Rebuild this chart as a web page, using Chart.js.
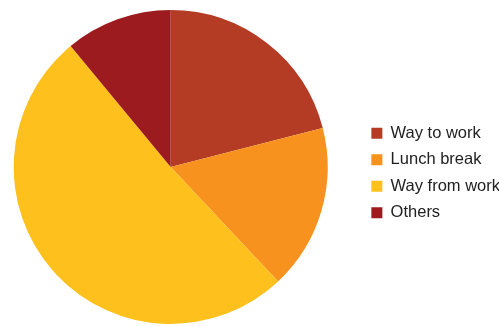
<!DOCTYPE html>
<html>
<head>
<meta charset="utf-8">
<script src="https://cdn.jsdelivr.net/npm/chart.js@4/dist/chart.umd.min.js"></script>
<style>
  html, body { margin: 0; padding: 0; background: #ffffff; }
  #wrap { width: 499px; height: 326px; }
</style>
</head>
<body>
<div id="wrap"><canvas id="chart"></canvas></div>
<script>
// Share of time spent, by part of the day (percent)
const categories = ['Way to work', 'Lunch break', 'Way from work', 'Others'];
const shares = [21, 17, 51, 11];
const sliceColors = ['#B43C24', '#F7921E', '#FDC01C', '#9B1B1E'];

// Nudges the legend box after layout so it sits beside the pie
const legendOffset = { x: 33, y: 6 };
const shiftLegend = {
  id: 'shiftLegend',
  afterLayout(chart) {
    const lg = chart.legend;
    if (!lg) return;
    lg.left += legendOffset.x; lg.right += legendOffset.x;
    lg.top += legendOffset.y; lg.bottom += legendOffset.y;
  }
};

new Chart(document.getElementById('chart'), {
  type: 'pie',
  data: {
    labels: categories,
    datasets: [{
      data: shares,
      backgroundColor: sliceColors,
      borderWidth: 0
    }]
  },
  options: {
    responsive: true,
    maintainAspectRatio: false,
    animation: false,
    layout: { padding: { left: 13, top: 10, bottom: 2, right: 22 } },
    plugins: {
      tooltip: { enabled: false },
      legend: {
        position: 'right',
        align: 'center',
        labels: {
          color: '#222222',
          boxWidth: 11,
          boxHeight: 11,
          padding: 10,
          font: { family: 'Liberation Sans, Arial, sans-serif', size: 16.5 }
        }
      }
    }
  },
  plugins: [shiftLegend]
});
</script>
</body>
</html>
